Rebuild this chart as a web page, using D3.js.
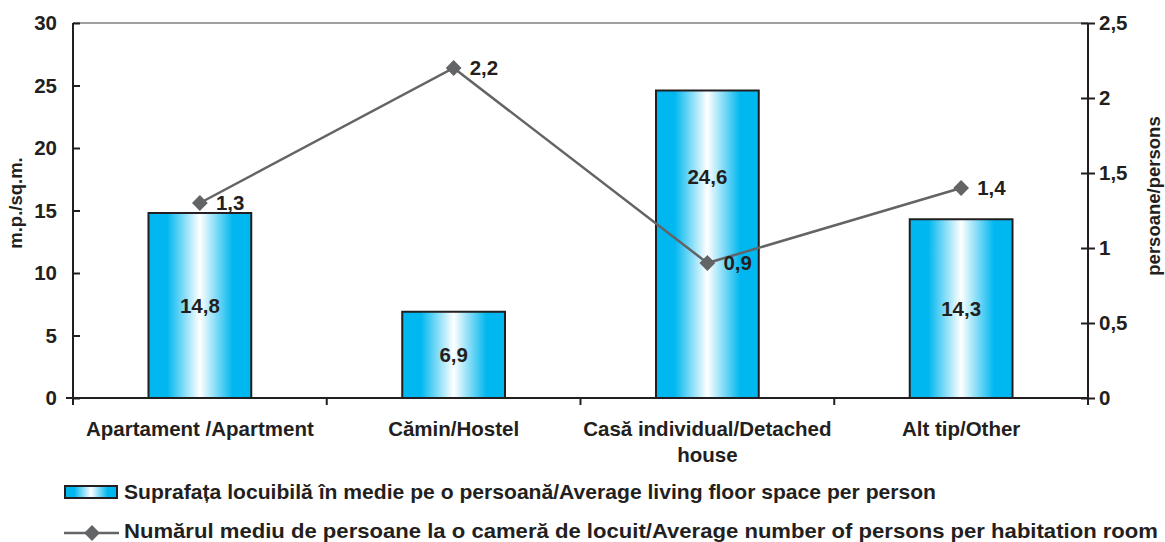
<!DOCTYPE html>
<html><head><meta charset="utf-8">
<script src="https://cdn.jsdelivr.net/npm/d3@7"></script>
<style>body{margin:0;background:#fff}svg{display:block}text{font-family:"Liberation Sans",Arial,sans-serif;font-weight:bold;fill:#231f20}</style>
</head><body>
<script>
const categories = ["Apartament /Apartment", "Cămin/Hostel", "Casă individual/Detached house", "Alt tip/Other"];
const categoryLines = [["Apartament /Apartment"], ["Cămin/Hostel"], ["Casă individual/Detached", "house"], ["Alt tip/Other"]];
const floorSpace = [14.8, 6.9, 24.6, 14.3];
const persons = [1.3, 2.2, 0.9, 1.4];
const leftTicks = [0, 5, 10, 15, 20, 25, 30];
const rightTicks = [0, 0.5, 1, 1.5, 2, 2.5];
const seriesNames = ["Suprafața locuibilă în medie pe o persoană/Average living floor space per person",
  "Numărul mediu de persoane la o cameră de locuit/Average number of persons per habitation room"];

const W = 1165, H = 542;
const m = {l: 73, r: 1088, t: 23, b: 398};
const FS = 20.5;
const fmt = v => String(v).replace(".", ",");
const svg = d3.select("body").append("svg").attr("width", W).attr("height", H);
const defs = svg.append("defs");
const g = defs.append("linearGradient").attr("id", "bg").attr("x1", "0%").attr("x2", "100%");
[[0, "#00b7ef"], [0.18, "#00b7ef"], [0.5, "#ffffff"], [0.82, "#00b7ef"], [1, "#00b7ef"]]
  .forEach(([o, c]) => g.append("stop").attr("offset", o).attr("stop-color", c));

const x = d3.scaleBand().domain(categories).range([m.l, m.r]).paddingInner(0.595).paddingOuter(0.2975);
const yL = d3.scaleLinear().domain([0, 30]).range([m.b, m.t]);
const yR = d3.scaleLinear().domain([0, 2.5]).range([m.b, m.t]);
const cx = c => x(c) + x.bandwidth() / 2;

// top border
svg.append("line").attr("x1", m.l).attr("x2", m.r).attr("y1", m.t).attr("y2", m.t).attr("stroke", "#a0a0a0").attr("stroke-width", 2);

// bars
svg.selectAll("rect.bar").data(categories).join("rect").attr("class", "bar")
  .attr("x", d => x(d)).attr("width", x.bandwidth())
  .attr("y", (d, i) => yL(floorSpace[i])).attr("height", (d, i) => yL(0) - yL(floorSpace[i]))
  .attr("fill", "url(#bg)").attr("stroke", "#231f20").attr("stroke-width", 2);
// bar label: centred in bar, or between bar top and line point when the point falls inside the bar
const barLabelY = i => {
  const top = yL(floorSpace[i]), bot = yL(0), p = yR(persons[i]);
  return (p > top && p < bot) ? (top + p) / 2 : (top + bot) / 2;
};
svg.selectAll("text.bl").data(categories).join("text").attr("class", "bl")
  .attr("x", d => cx(d)).attr("y", (d, i) => barLabelY(i) + 7)
  .attr("text-anchor", "middle").attr("font-size", FS).text((d, i) => fmt(floorSpace[i]));

// axes
function axisLeft() {
  const a = svg.append("g").attr("transform", `translate(${m.l},0)`)
    .call(d3.axisLeft(yL).tickValues(leftTicks).tickSizeInner(7).tickSizeOuter(0).tickPadding(9));
  a.selectAll(".tick line").attr("x2", 7);
  return a;
}
function axisRight() {
  const a = svg.append("g").attr("transform", `translate(${m.r},0)`)
    .call(d3.axisRight(yR).tickValues(rightTicks).tickFormat(fmt).tickSizeInner(7).tickSizeOuter(0).tickPadding(4));
  a.selectAll(".tick line").attr("x2", 7).attr("x1", -7);
  return a;
}
[axisLeft(), axisRight()].forEach(a => {
  a.selectAll("path,line").attr("stroke", "#231f20").attr("stroke-width", 2);
  a.selectAll("text").attr("font-size", FS).attr("fill", "#231f20").style("font-family", "Liberation Sans, Arial").style("font-weight", "bold");
  a.select(".domain").attr("d", null);
});
svg.append("line").attr("x1", m.l).attr("x2", m.l).attr("y1", m.t).attr("y2", m.b).attr("stroke", "#231f20").attr("stroke-width", 2);
svg.append("line").attr("x1", m.r).attr("x2", m.r).attr("y1", m.t).attr("y2", m.b + 7).attr("stroke", "#231f20").attr("stroke-width", 2);
const xa = svg.append("g").attr("transform", `translate(0,${m.b})`)
  .call(d3.axisBottom(x).tickSize(0).tickFormat(""));
xa.select(".domain").attr("stroke", "#231f20").attr("stroke-width", 2).attr("d", `M${m.l - 7},0H${m.r}`);
[m.l, m.l + (m.r - m.l) / 4, m.l + (m.r - m.l) / 2, m.l + 3 * (m.r - m.l) / 4].forEach(v =>
  svg.append("line").attr("x1", v).attr("x2", v).attr("y1", m.b).attr("y2", m.b + 7).attr("stroke", "#231f20").attr("stroke-width", 2));

// category labels
categories.forEach((c, i) => {
  const t = svg.append("text").attr("x", cx(c)).attr("y", 436).attr("text-anchor", "middle").attr("font-size", FS);
  categoryLines[i].forEach((l, j) => t.append("tspan").attr("x", cx(c)).attr("dy", j ? 26 : 0).text(l));
});

// axis titles
svg.append("text").attr("transform", `translate(22,203) rotate(-90)`).attr("text-anchor", "middle").attr("font-size", 18.5).text("m.p./sq.m.");
svg.append("text").attr("transform", `translate(1160,196) rotate(-90)`).attr("text-anchor", "middle").attr("font-size", 18.5).text("persoane/persons");

// line
const line = d3.line().x((d, i) => cx(categories[i])).y(d => yR(d));
svg.append("path").datum(persons).attr("d", line).attr("fill", "none").attr("stroke", "#636466").attr("stroke-width", 2.5);
const mk = d3.symbol().type(d3.symbolSquare).size(125);
svg.selectAll("path.mk").data(persons).join("path").attr("class", "mk")
  .attr("transform", (d, i) => `translate(${cx(categories[i])},${yR(d)}) rotate(45)`)
  .attr("d", mk).attr("fill", "#636466");
svg.selectAll("text.pl").data(persons).join("text").attr("class", "pl")
  .attr("x", (d, i) => cx(categories[i]) + 16).attr("y", d => yR(d) + 7)
  .attr("font-size", FS).text(d => fmt(d));

// legend
svg.append("rect").attr("x", 65).attr("y", 486).attr("width", 52).attr("height", 12).attr("fill", "url(#bg)").attr("stroke", "#231f20").attr("stroke-width", 2);
svg.append("text").attr("x", 124).attr("y", 499).attr("font-size", FS).attr("textLength", 812).attr("lengthAdjust", "spacingAndGlyphs").text(seriesNames[0]);
svg.append("line").attr("x1", 64).attr("x2", 119).attr("y1", 533).attr("y2", 533).attr("stroke", "#636466").attr("stroke-width", 2.5);
svg.append("path").attr("transform", "translate(92,533) rotate(45)").attr("d", mk).attr("fill", "#636466");
svg.append("text").attr("x", 124).attr("y", 538).attr("font-size", FS).attr("textLength", 1034).attr("lengthAdjust", "spacingAndGlyphs").text(seriesNames[1]);
</script>
</body></html>
